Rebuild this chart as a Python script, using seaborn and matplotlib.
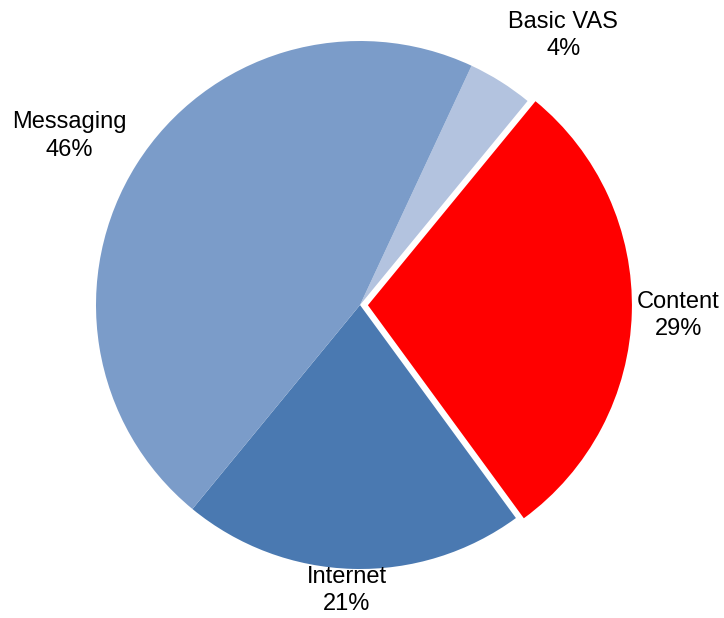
import numpy as np
import seaborn as sns
from matplotlib import pyplot as plt

sns.set_theme(style="white")
plt.rcParams['font.family'] = ['Liberation Sans Narrow', 'Liberation Sans', 'DejaVu Sans']

# data, clockwise from the top
segments = ['Basic VAS', 'Content', 'Internet', 'Messaging']
shares = [4, 29, 21, 46]
colours = ['#B3C3DF', '#FF0000', '#4A79B1', '#7B9CC9']
explode = [0, 0.03, 0, 0]

# label anchors (data units, pie radius = 1)
label_pos = [(0.77, 1.02), (1.205, -0.04), (-0.05, -1.08), (-1.10, 0.64)]

fig = plt.figure(figsize=(7.24, 6.18), dpi=100)
ax = fig.add_axes([0, 0, 1, 1])

wedges, _ = ax.pie(shares, colors=colours, explode=explode, startangle=65,
                   counterclock=False, radius=1, center=(0, 0),
                   wedgeprops=dict(linewidth=0))

for name, val, (lx, ly) in zip(segments, shares, label_pos):
    ax.text(lx, ly, f"{name}\n{val}%", ha='center', va='center',
            fontsize=17, color='black', linespacing=1.3)

ax.set_xlim(-360 / 264, 364 / 264)
ax.set_ylim(-313 / 264, 305 / 264)
ax.set_aspect('equal')
ax.axis('off')

plt.savefig('out.png', dpi=100)
